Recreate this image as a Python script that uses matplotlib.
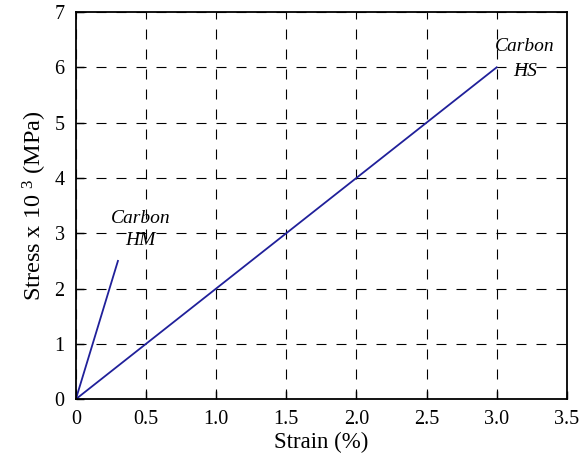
import matplotlib
matplotlib.use("Agg")
import matplotlib.pyplot as plt

plt.rcParams['font.family'] = ['Liberation Serif', 'DejaVu Serif']
plt.rcParams['mathtext.fontset'] = 'custom'
plt.rcParams['mathtext.rm'] = 'Liberation Serif'
plt.rcParams['mathtext.it'] = 'Liberation Serif:italic'

# strain (%) and stress (x 10^3 MPa) for the two fibres
hs_strain = [0.0, 3.0]
hs_stress = [0.0, 6.0]
hm_strain = [0.0, 0.3]
hm_stress = [0.0, 2.5]

xticks = [0, 0.5, 1.0, 1.5, 2.0, 2.5, 3.0, 3.5]
xticklabels = ['0', '0.5', '1.0', '1.5', '2.0', '2.5', '3.0', '3.5']
yticks = [0, 1, 2, 3, 4, 5, 6, 7]

fig = plt.figure(figsize=(5.79, 4.62), dpi=100)
ax = fig.add_axes([0.131, 0.136, 0.848, 0.838])

line_col = '#20209a'
ax.plot(hs_strain, hs_stress, color=line_col, lw=1.3)
ax.plot(hm_strain, hm_stress, color=line_col, lw=1.3)

ax.set_xlim(0, 3.5)
ax.set_ylim(0, 7)
ax.set_xticks(xticks)
ax.set_xticklabels(xticklabels)
ax.set_yticks(yticks)
ax.grid(True, color='black', lw=0.8, linestyle=(0, (9, 9)))
ax.set_axisbelow(True)

ax.tick_params(direction='in', length=6, width=1, labelsize=14.5, pad=8,
               top=False, right=False)
for s in ax.spines.values():
    s.set_linewidth(1.3)

ax.set_xlabel('Strain (%)', fontsize=16.5, labelpad=2)
ax.set_ylabel('Stress x 10 $^3$ (MPa)', fontsize=17.5, labelpad=4)

ax.text(3.2, 6.37, 'Carbon', style='italic', fontsize=14, ha='center', va='center')
ax.text(3.2, 5.92, 'HS', style='italic', fontsize=14, ha='center', va='center')
ax.text(0.46, 3.27, 'Carbon', style='italic', fontsize=14, ha='center', va='center')
ax.text(0.46, 2.86, 'HM', style='italic', fontsize=14, ha='center', va='center')

fig.savefig('out.png', dpi=100)
